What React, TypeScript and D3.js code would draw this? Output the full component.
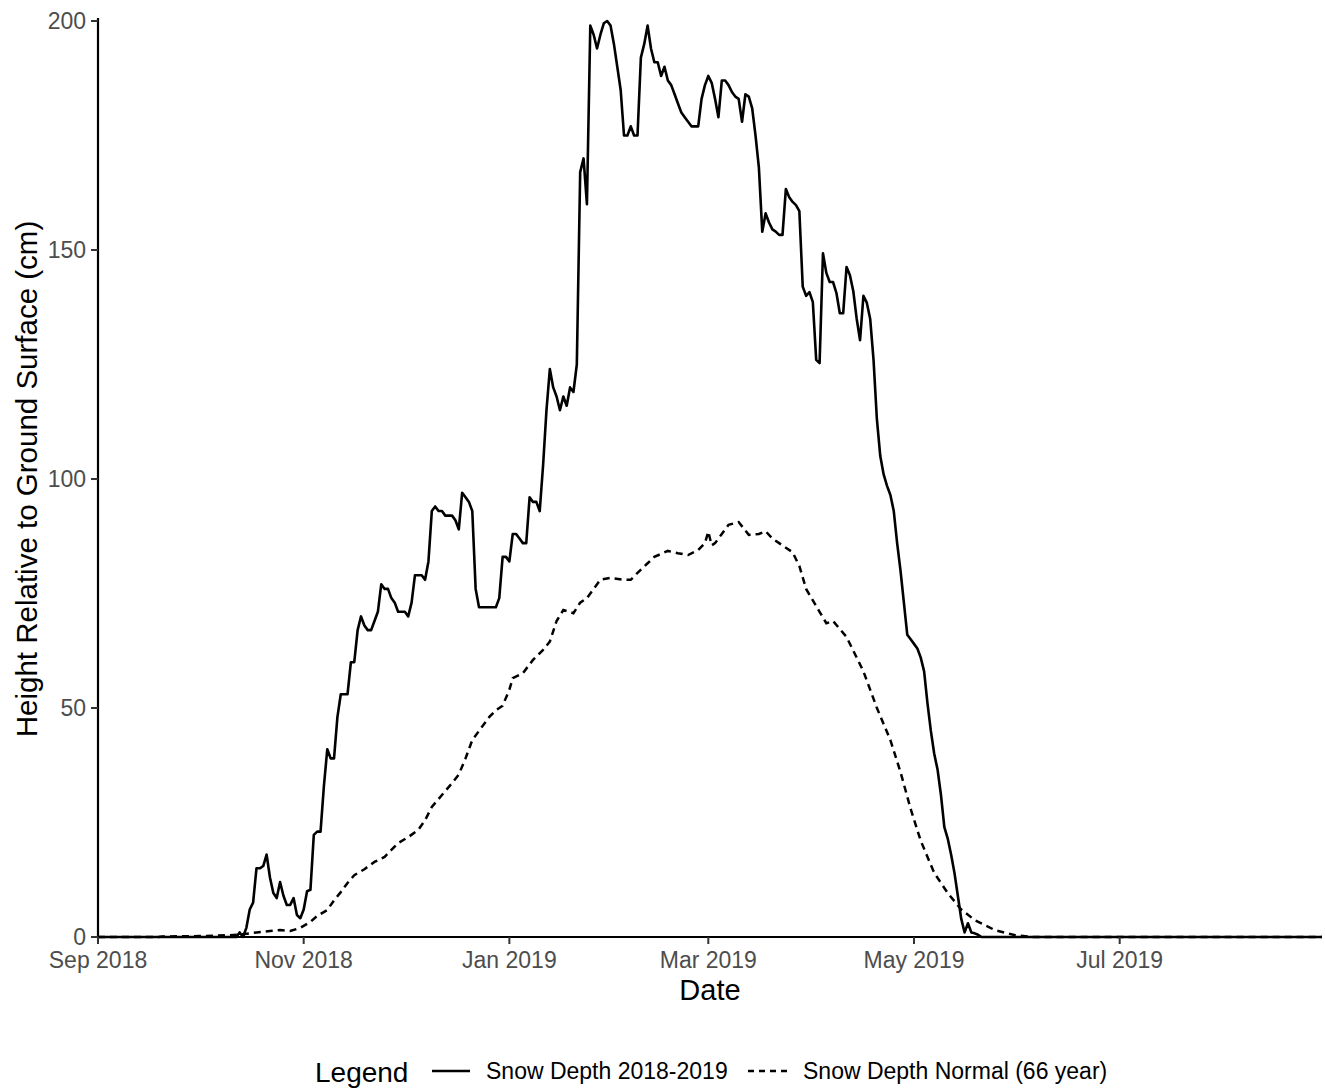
import { useMemo } from "react";
import * as d3 from "d3";

const WIDTH = 1325;
const HEIGHT = 1090;
const PLOT = { left: 98, right: 1322, top: 21, bottom: 937 };
const FONT = "'Liberation Sans', Arial, Helvetica, sans-serif";

const X_DOMAIN = ["2018-09-01", "2019-08-30"];
const Y_TICKS = [0, 50, 100, 150, 200];
const SERIES_LABELS = ["Snow Depth 2018-2019", "Snow Depth Normal (66 year)"];

// snow depth (cm), 2018-2019 season
const SNOW_2018_2019: [string, number][] = [
  ["2018-09-01", 0], ["2018-10-12", 0], ["2018-10-13", 1], ["2018-10-14", 0],
  ["2018-10-15", 2], ["2018-10-16", 6], ["2018-10-17", 7.5], ["2018-10-18", 15],
  ["2018-10-19", 15], ["2018-10-20", 15.5], ["2018-10-21", 18], ["2018-10-22", 13],
  ["2018-10-23", 9.6], ["2018-10-24", 8.5], ["2018-10-25", 12], ["2018-10-26", 9],
  ["2018-10-27", 7], ["2018-10-28", 7], ["2018-10-29", 8.5], ["2018-10-30", 4.8],
  ["2018-10-31", 4.1], ["2018-11-01", 6], ["2018-11-02", 10], ["2018-11-03", 10.3],
  ["2018-11-04", 22.3], ["2018-11-05", 23], ["2018-11-06", 23], ["2018-11-07", 33],
  ["2018-11-08", 41], ["2018-11-09", 39], ["2018-11-10", 39], ["2018-11-11", 48],
  ["2018-11-12", 53], ["2018-11-13", 53], ["2018-11-14", 53], ["2018-11-15", 60],
  ["2018-11-16", 60], ["2018-11-17", 67], ["2018-11-18", 70], ["2018-11-19", 68],
  ["2018-11-20", 67], ["2018-11-21", 67], ["2018-11-22", 69], ["2018-11-23", 71],
  ["2018-11-24", 77], ["2018-11-25", 76], ["2018-11-26", 76], ["2018-11-27", 74],
  ["2018-11-28", 73], ["2018-11-29", 71], ["2018-11-30", 71], ["2018-12-01", 71],
  ["2018-12-02", 70], ["2018-12-03", 73], ["2018-12-04", 79], ["2018-12-05", 79],
  ["2018-12-06", 79], ["2018-12-07", 78], ["2018-12-08", 82], ["2018-12-09", 93],
  ["2018-12-10", 94], ["2018-12-11", 93], ["2018-12-12", 93], ["2018-12-13", 92],
  ["2018-12-14", 92], ["2018-12-15", 92], ["2018-12-16", 91], ["2018-12-17", 89],
  ["2018-12-18", 97], ["2018-12-19", 96], ["2018-12-20", 95], ["2018-12-21", 93],
  ["2018-12-22", 76], ["2018-12-23", 72], ["2018-12-24", 72], ["2018-12-25", 72],
  ["2018-12-26", 72], ["2018-12-27", 72], ["2018-12-28", 72], ["2018-12-29", 74],
  ["2018-12-30", 83], ["2018-12-31", 83], ["2019-01-01", 82], ["2019-01-02", 88],
  ["2019-01-03", 88], ["2019-01-04", 87], ["2019-01-05", 86], ["2019-01-06", 86],
  ["2019-01-07", 96], ["2019-01-08", 95], ["2019-01-09", 95], ["2019-01-10", 93],
  ["2019-01-11", 103], ["2019-01-12", 115], ["2019-01-13", 124], ["2019-01-14", 120],
  ["2019-01-15", 118], ["2019-01-16", 115], ["2019-01-17", 118], ["2019-01-18", 116],
  ["2019-01-19", 120], ["2019-01-20", 119], ["2019-01-21", 125], ["2019-01-22", 167],
  ["2019-01-23", 170], ["2019-01-24", 160], ["2019-01-25", 199], ["2019-01-26", 197],
  ["2019-01-27", 194], ["2019-01-28", 197], ["2019-01-29", 199.5], ["2019-01-30", 200],
  ["2019-01-31", 199], ["2019-02-01", 195], ["2019-02-02", 190], ["2019-02-03", 185],
  ["2019-02-04", 175], ["2019-02-05", 175], ["2019-02-06", 177], ["2019-02-07", 175],
  ["2019-02-08", 175], ["2019-02-09", 192], ["2019-02-10", 195], ["2019-02-11", 199],
  ["2019-02-12", 194], ["2019-02-13", 191], ["2019-02-14", 191], ["2019-02-15", 188],
  ["2019-02-16", 190], ["2019-02-17", 187], ["2019-02-18", 186], ["2019-02-19", 184],
  ["2019-02-20", 182], ["2019-02-21", 180], ["2019-02-22", 179], ["2019-02-23", 178],
  ["2019-02-24", 177], ["2019-02-25", 177], ["2019-02-26", 177], ["2019-02-27", 183],
  ["2019-02-28", 186], ["2019-03-01", 188], ["2019-03-02", 186.5], ["2019-03-03", 183],
  ["2019-03-04", 179], ["2019-03-05", 187], ["2019-03-06", 187], ["2019-03-07", 186],
  ["2019-03-08", 184.5], ["2019-03-09", 183.5], ["2019-03-10", 183], ["2019-03-11", 178],
  ["2019-03-12", 184], ["2019-03-13", 183.5], ["2019-03-14", 181], ["2019-03-15", 175],
  ["2019-03-16", 168], ["2019-03-17", 154], ["2019-03-18", 158], ["2019-03-19", 156],
  ["2019-03-20", 154.5], ["2019-03-21", 154], ["2019-03-22", 153.3], ["2019-03-23", 153.3],
  ["2019-03-24", 163.3], ["2019-03-25", 161.5], ["2019-03-26", 160.5], ["2019-03-27", 159.8],
  ["2019-03-28", 158.5], ["2019-03-29", 142], ["2019-03-30", 140], ["2019-03-31", 140.8],
  ["2019-04-01", 138.6], ["2019-04-02", 126], ["2019-04-03", 125.3], ["2019-04-04", 149.3],
  ["2019-04-05", 145], ["2019-04-06", 143], ["2019-04-07", 143], ["2019-04-08", 140.6],
  ["2019-04-09", 136.2], ["2019-04-10", 136.2], ["2019-04-11", 146.3], ["2019-04-12", 144.5],
  ["2019-04-13", 141], ["2019-04-14", 135], ["2019-04-15", 130.3], ["2019-04-16", 140],
  ["2019-04-17", 138.5], ["2019-04-18", 135], ["2019-04-19", 126], ["2019-04-20", 113],
  ["2019-04-21", 105], ["2019-04-22", 101], ["2019-04-23", 98.5], ["2019-04-24", 96.5],
  ["2019-04-25", 93], ["2019-04-26", 86], ["2019-04-27", 80], ["2019-04-28", 73],
  ["2019-04-29", 66], ["2019-04-30", 65], ["2019-05-01", 64], ["2019-05-02", 63],
  ["2019-05-03", 61], ["2019-05-04", 58], ["2019-05-05", 51], ["2019-05-06", 45],
  ["2019-05-07", 40], ["2019-05-08", 36.5], ["2019-05-09", 31], ["2019-05-10", 24],
  ["2019-05-11", 21.5], ["2019-05-12", 18], ["2019-05-13", 14], ["2019-05-14", 9],
  ["2019-05-15", 4], ["2019-05-16", 1], ["2019-05-17", 3], ["2019-05-18", 1],
  ["2019-05-19", 0.8], ["2019-05-20", 0.5], ["2019-05-21", 0], ["2019-08-30", 0],
];

// 66-year normal snow depth (cm)
const SNOW_NORMAL: [string, number][] = [
  ["2018-09-01", 0], ["2018-09-19", 0], ["2018-09-20", 0.1], ["2018-10-01", 0.2],
  ["2018-10-10", 0.4], ["2018-10-14", 0.6], ["2018-10-18", 1], ["2018-10-22", 1.3],
  ["2018-10-25", 1.5], ["2018-10-28", 1.3], ["2018-10-31", 2], ["2018-11-03", 3.3],
  ["2018-11-05", 4.6], ["2018-11-08", 5.9], ["2018-11-10", 8], ["2018-11-12", 9.8],
  ["2018-11-14", 11.8], ["2018-11-16", 13.5], ["2018-11-19", 14.8], ["2018-11-22", 16.4],
  ["2018-11-25", 17.5], ["2018-11-27", 19], ["2018-11-29", 20.5], ["2018-12-02", 21.8],
  ["2018-12-05", 23.4], ["2018-12-07", 25.5], ["2018-12-09", 28.4], ["2018-12-12", 31],
  ["2018-12-15", 33.6], ["2018-12-17", 35.5], ["2018-12-19", 39], ["2018-12-21", 43],
  ["2018-12-24", 46], ["2018-12-26", 48], ["2018-12-28", 49.5], ["2018-12-30", 50.5],
  ["2019-01-01", 54], ["2019-01-02", 56.5], ["2019-01-05", 57.6], ["2019-01-08", 60.5],
  ["2019-01-11", 62.7], ["2019-01-13", 64.5], ["2019-01-15", 69], ["2019-01-17", 71.4],
  ["2019-01-20", 70.7], ["2019-01-22", 73], ["2019-01-24", 74], ["2019-01-26", 76],
  ["2019-01-28", 78], ["2019-01-31", 78.4], ["2019-02-04", 78], ["2019-02-06", 78],
  ["2019-02-08", 79.5], ["2019-02-11", 81.6], ["2019-02-13", 83], ["2019-02-17", 84.3],
  ["2019-02-20", 83.8], ["2019-02-23", 83.4], ["2019-02-26", 84.5], ["2019-02-28", 86],
  ["2019-03-01", 88.5], ["2019-03-02", 85.5], ["2019-03-03", 86], ["2019-03-05", 88],
  ["2019-03-07", 90], ["2019-03-10", 90.6], ["2019-03-13", 87.8], ["2019-03-16", 88],
  ["2019-03-18", 88.6], ["2019-03-20", 87], ["2019-03-22", 86], ["2019-03-24", 85],
  ["2019-03-26", 84], ["2019-03-28", 81], ["2019-03-30", 76], ["2019-04-01", 73.5],
  ["2019-04-03", 71], ["2019-04-05", 68.5], ["2019-04-07", 69], ["2019-04-11", 65.5],
  ["2019-04-16", 58], ["2019-04-20", 50], ["2019-04-24", 43], ["2019-04-27", 36],
  ["2019-04-30", 28], ["2019-05-03", 21], ["2019-05-07", 14], ["2019-05-11", 9.6],
  ["2019-05-15", 6], ["2019-05-19", 3.7], ["2019-05-25", 1.5], ["2019-05-31", 0.4],
  ["2019-06-05", 0], ["2019-08-30", 0],
];

const parseDate = d3.utcParse("%Y-%m-%d");

export default function App() {
  const x = useMemo(
    () =>
      d3
        .scaleUtc()
        .domain(X_DOMAIN.map((d) => parseDate(d) as Date))
        .range([PLOT.left, PLOT.right]),
    []
  );
  const y = useMemo(
    () => d3.scaleLinear().domain([0, 200]).range([PLOT.bottom, PLOT.top]),
    []
  );

  const line = d3
    .line<[string, number]>()
    .x((d) => x(parseDate(d[0]) as Date))
    .y((d) => y(d[1]));

  const xTicks = x.ticks(d3.utcMonth.every(2) as d3.TimeInterval);
  const fmt = d3.utcFormat("%b %Y");

  return (
    <svg
      width={WIDTH}
      height={HEIGHT}
      style={{ position: "absolute", left: 0, top: 0, background: "#fff" }}
      fontFamily={FONT}
    >
      <path d={line(SNOW_NORMAL) ?? ""} fill="none" stroke="#000" strokeWidth={2.5} strokeDasharray="7 5" />
      <path d={line(SNOW_2018_2019) ?? ""} fill="none" stroke="#000" strokeWidth={2.6} strokeLinejoin="round" />

      {/* axes */}
      <line x1={PLOT.left} x2={PLOT.left} y1={PLOT.top - 3} y2={PLOT.bottom + 1} stroke="#000" strokeWidth={2.2} />
      <line x1={PLOT.left - 1} x2={PLOT.right} y1={PLOT.bottom} y2={PLOT.bottom} stroke="#000" strokeWidth={2.2} />

      {Y_TICKS.map((t) => (
        <g key={t}>
          <line x1={PLOT.left - 7} x2={PLOT.left} y1={y(t)} y2={y(t)} stroke="#333" strokeWidth={2} />
          <text x={PLOT.left - 12} y={y(t)} dy="0.35em" textAnchor="end" fontSize={23} fill="#4d4d4d">
            {t}
          </text>
        </g>
      ))}

      {xTicks.map((t) => (
        <g key={t.getTime()}>
          <line x1={x(t)} x2={x(t)} y1={PLOT.bottom} y2={PLOT.bottom + 7} stroke="#333" strokeWidth={2} />
          <text x={x(t)} y={PLOT.bottom + 31} textAnchor="middle" fontSize={23} fill="#4d4d4d">
            {fmt(t)}
          </text>
        </g>
      ))}

      <text x={(PLOT.left + PLOT.right) / 2} y={1000} textAnchor="middle" fontSize={29} fill="#000">
        Date
      </text>
      <text
        transform={`translate(37, ${(PLOT.top + PLOT.bottom) / 2}) rotate(-90)`}
        textAnchor="middle"
        fontSize={29.5}
        fill="#000"
      >
        Height Relative to Ground Surface (cm)
      </text>

      {/* legend */}
      <text x={315} y={1082} fontSize={28} fill="#000">Legend</text>
      <line x1={432} x2={470} y1={1071} y2={1071} stroke="#000" strokeWidth={2.6} />
      <text x={486} y={1079} fontSize={23} fill="#000">{SERIES_LABELS[0]}</text>
      <line x1={748} x2={790} y1={1071} y2={1071} stroke="#000" strokeWidth={2.5} strokeDasharray="6 5" />
      <text x={803} y={1079} fontSize={23} fill="#000">{SERIES_LABELS[1]}</text>
    </svg>
  );
}
